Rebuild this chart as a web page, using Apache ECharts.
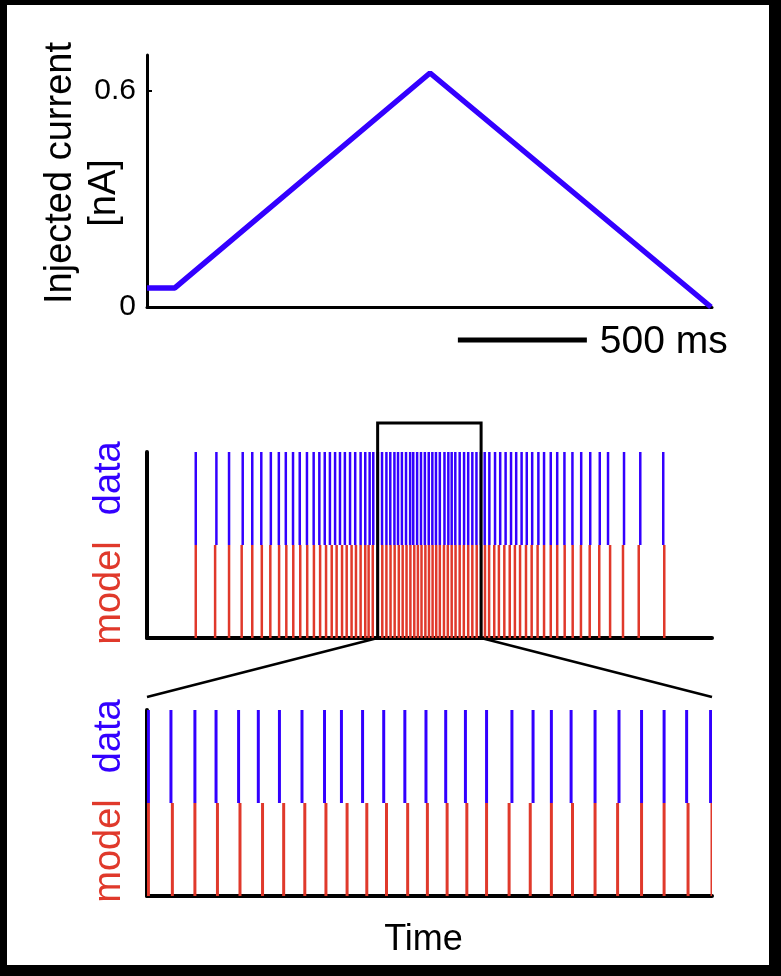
<!DOCTYPE html>
<html>
<head>
<meta charset="utf-8">
<script src="https://cdn.jsdelivr.net/npm/echarts@6/dist/echarts.min.js"></script>
<style>
  body { margin: 0; background: #000; }
  #wrap { position: relative; width: 781px; height: 976px; background: #000; }
  #paper { position: absolute; left: 7px; top: 5px; width: 762px; height: 960px; background: #fff; }
  #chart { position: absolute; left: 0; top: 0; width: 781px; height: 976px; }
</style>
</head>
<body>
<div id="wrap">
  <div id="paper"></div>
  <div id="chart"></div>
</div>
<script>
// injected current trace, [time ms, current nA]
var currentTrace = [[0, 0.053], [108, 0.053], [1097, 0.65], [2186, 0]];
var currentTicks = [0, 0.6];
var totalTime = 2190;
var scaleBarStart = 1205;
var scaleBarLength = 500;

// spike times in ms
var dataSpikes = [
  189, 269, 318, 371, 408, 443, 480, 511, 538, 566, 592, 620, 646, 668, 689, 709, 729, 748, 767, 787, 807, 828, 846, 863, 877,
  895, 911, 928, 943, 959, 973, 988, 1004, 1020, 1032, 1047, 1062, 1077, 1092, 1106, 1120, 1135, 1153, 1168, 1181, 1195, 1212, 1229, 1245, 1261, 1277, 1294,
  1309, 1327, 1349, 1369, 1390, 1411, 1431, 1452, 1472, 1493, 1517, 1539, 1565, 1590, 1618, 1649, 1683, 1718, 1755, 1787, 1849, 1912, 2001
];
var modelSpikes = [
  189, 264, 318, 367, 408, 445, 478, 512, 540, 567, 594, 621, 647, 671, 694, 716, 735, 756, 774, 793, 810, 828, 846, 859, 875,
  895, 912, 928, 944, 960, 976, 991, 1006, 1021, 1036, 1050, 1064, 1079, 1093, 1107, 1121, 1135, 1151, 1166, 1181, 1196, 1212, 1228, 1245, 1261, 1278, 1295,
  1310, 1326, 1346, 1364, 1385, 1406, 1426, 1446, 1469, 1491, 1514, 1539, 1565, 1590, 1619, 1650, 1682, 1716, 1753, 1795, 1845, 1906, 2005
];
var zoomWindow = [894, 1295];

var BLUE = '#3300ff';
var RED = '#e0392b';
var FONT = 'Liberation Sans, Arial, sans-serif';

var chart = echarts.init(document.getElementById('chart'), null, { renderer: 'canvas' });

function spikeRender(color, width) {
  return function (params, api) {
    var p0 = api.coord([api.value(0), api.value(1)]);
    var p1 = api.coord([api.value(0), api.value(2)]);
    return {
      type: 'line',
      shape: { x1: p0[0], y1: p0[1], x2: p1[0], y2: p1[1] },
      style: { stroke: color, lineWidth: width }
    };
  };
}

function rasterYAxis(gridIndex) {
  return {
    gridIndex: gridIndex, type: 'value', min: 0, max: 2,
    axisLine: { show: true, onZero: false, lineStyle: { color: '#000', width: 4 } },
    axisTick: { show: false }, axisLabel: { show: false }, splitLine: { show: false },
    name: '{m|model}{g| }{d|data}',
    nameLocation: 'middle', nameRotate: 90, nameGap: 18, nameMoveOverlap: false,
    nameTextStyle: {
      fontFamily: FONT, fontSize: 38,
      rich: {
        m: { color: RED, fontSize: 38, fontFamily: FONT, padding: [0, 0, 0, 4] },
        g: { width: 26, fontSize: 38 },
        d: { color: BLUE, fontSize: 38, fontFamily: FONT }
      }
    }
  };
}

function rasterXAxis(gridIndex, min, max) {
  return {
    gridIndex: gridIndex, type: 'value', min: min, max: max,
    axisLine: { show: true, onZero: false, lineStyle: { color: '#000', width: 4 } },
    axisTick: { show: false }, axisLabel: { show: false }, splitLine: { show: false }
  };
}

var timeAxisBottom = rasterXAxis(2, zoomWindow[0], zoomWindow[1]);
timeAxisBottom.name = 'Time';
timeAxisBottom.nameLocation = 'middle';
timeAxisBottom.nameGap = 26;
timeAxisBottom.nameMoveOverlap = false;
timeAxisBottom.nameTextStyle = { fontFamily: FONT, fontSize: 36, color: '#000', padding: [0, 12, 0, 0] };

var series = [
  {
    type: 'line', xAxisIndex: 0, yAxisIndex: 0,
    data: currentTrace, symbol: 'none',
    lineStyle: { color: BLUE, width: 5.5 }
  }
];
[1, 2].forEach(function (g) {
  var w = g === 1 ? 2.5 : 3;
  series.push({
    type: 'custom', xAxisIndex: g, yAxisIndex: g, clip: true,
    renderItem: spikeRender(BLUE, w),
    encode: { x: 0, y: [1, 2] },
    data: dataSpikes.map(function (t) { return [t, 1, 2]; })
  });
  series.push({
    type: 'custom', xAxisIndex: g, yAxisIndex: g, clip: true,
    renderItem: spikeRender(RED, w),
    encode: { x: 0, y: [1, 2] },
    data: modelSpikes.map(function (t) { return [t, 0, 1]; })
  });
});

chart.setOption({
  backgroundColor: 'transparent',
  animation: false,
  textStyle: { fontFamily: FONT },
  grid: [
    { left: 147, top: 55, width: 565, height: 252, containLabel: false, outerBoundsMode: 'none' },
    { left: 147, top: 452, width: 565, height: 186, containLabel: false, outerBoundsMode: 'none' },
    { left: 147, top: 710, width: 565, height: 186, containLabel: false, outerBoundsMode: 'none' }
  ],
  xAxis: [
    {
      gridIndex: 0, type: 'value', min: 0, max: totalTime,
      axisLine: { show: true, onZero: false, lineStyle: { color: '#000', width: 3 } },
      axisTick: { show: false }, axisLabel: { show: false }, splitLine: { show: false }
    },
    rasterXAxis(1, 0, totalTime),
    timeAxisBottom
  ],
  yAxis: [
    {
      gridIndex: 0, type: 'value', min: 0, max: 0.7,
      axisLine: { show: true, lineStyle: { color: '#000', width: 3 } },
      axisTick: { show: true, inside: true, length: 5, customValues: currentTicks, lineStyle: { color: '#000', width: 2 } },
      axisLabel: { customValues: currentTicks, color: '#000', fontSize: 30, fontFamily: FONT, margin: 11 },
      splitLine: { show: false },
      name: '{a|Injected current}\n{b|[nA]}',
      nameLocation: 'middle', nameRotate: 90, nameGap: 20, nameMoveOverlap: false,
      nameTextStyle: {
        fontFamily: FONT, fontSize: 38, color: '#000', lineHeight: 44,
        rich: {
          a: { fontSize: 38, lineHeight: 44, color: '#000', fontFamily: FONT, padding: [0, 0, 0, 16] },
          b: { fontSize: 38, lineHeight: 44, color: '#000', fontFamily: FONT, padding: [0, 24, 0, 0] }
        }
      }
    },
    rasterYAxis(1),
    rasterYAxis(2)
  ],
  series: series
});

// overlays: zoom box, connecting lines and scale bar, placed through the axes
var boxLo = chart.convertToPixel({ gridIndex: 1 }, [zoomWindow[0], 0]);
var boxHi = chart.convertToPixel({ gridIndex: 1 }, [zoomWindow[1], 2]);
var zoomL = chart.convertToPixel({ gridIndex: 2 }, [zoomWindow[0], 2]);
var zoomR = chart.convertToPixel({ gridIndex: 2 }, [zoomWindow[1], 2]);
var barA = chart.convertToPixel({ gridIndex: 0 }, [scaleBarStart, 0]);
var barB = chart.convertToPixel({ gridIndex: 0 }, [scaleBarStart + scaleBarLength, 0]);
var boxTop = boxHi[1] - 29;
var barY = barA[1] + 33;

chart.setOption({
  graphic: [
    {
      type: 'polyline', z: 100,
      shape: { points: [[boxLo[0], boxLo[1]], [boxLo[0], boxTop], [boxHi[0], boxTop], [boxHi[0], boxLo[1]]] },
      style: { stroke: '#000', lineWidth: 3, fill: null }
    },
    {
      type: 'line', z: 100,
      shape: { x1: boxLo[0], y1: boxLo[1], x2: zoomL[0], y2: zoomL[1] - 13 },
      style: { stroke: '#000', lineWidth: 2.5 }
    },
    {
      type: 'line', z: 100,
      shape: { x1: boxHi[0], y1: boxLo[1], x2: zoomR[0], y2: zoomR[1] - 13 },
      style: { stroke: '#000', lineWidth: 2.5 }
    },
    {
      type: 'line', z: 100,
      shape: { x1: barA[0], y1: barY, x2: barB[0], y2: barY },
      style: { stroke: '#000', lineWidth: 5 }
    },
    {
      type: 'text', z: 100, x: barB[0] + 13, y: barY + 2,
      style: { text: '500 ms', fill: '#000', font: '39px ' + FONT, verticalAlign: 'middle', align: 'left' }
    }
  ]
});
</script>
</body>
</html>
